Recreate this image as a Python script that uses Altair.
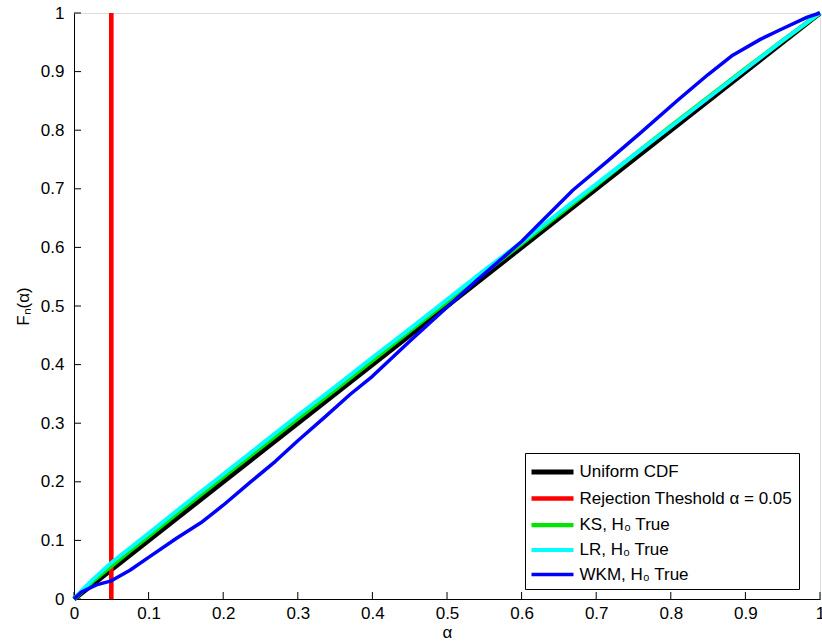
import altair as alt
import pandas as pd

# ---- data ----
series = ["Uniform CDF", "Rejection Theshold α = 0.05", "KS, H₀ True", "LR, H₀ True", "WKM, H₀ True"]
colors = ["#000000", "#ff0000", "#00e600", "#00ffff", "#0000ff"]
widths = [5, 3.5, 3.5, 3.5, 3.5]

uniform_x = [0, 1]
uniform_y = [0, 1]

thresh_x = [0.05, 0.05]
thresh_y = [0, 1]

grid_x = [0, 0.01, 0.025, 0.05, 0.075, 0.1, 0.15, 0.2, 0.25, 0.3, 0.35, 0.4, 0.45,
          0.5, 0.55, 0.6, 0.65, 0.7, 0.75, 0.8, 0.85, 0.9, 0.95, 1]
ks_y = [0, 0.012, 0.030, 0.056, 0.082, 0.107, 0.158, 0.208, 0.258, 0.308, 0.357, 0.407,
        0.457, 0.507, 0.557, 0.606, 0.656, 0.706, 0.757, 0.807, 0.856, 0.905, 0.953, 1]
lr_y = [0, 0.014, 0.033, 0.062, 0.087, 0.112, 0.163, 0.213, 0.263, 0.313, 0.362, 0.412,
        0.461, 0.511, 0.561, 0.609, 0.659, 0.708, 0.757, 0.806, 0.855, 0.904, 0.953, 1]

wkm_x = [0, 0.01, 0.03, 0.05, 0.075, 0.1, 0.138, 0.17, 0.2, 0.236, 0.27, 0.3, 0.335,
         0.37, 0.4, 0.45, 0.5, 0.54, 0.6, 0.625, 0.669, 0.714, 0.759, 0.81, 0.85, 0.883,
         0.92, 0.946, 0.983, 1]
wkm_y = [0, 0.012, 0.024, 0.031, 0.049, 0.071, 0.104, 0.13, 0.16, 0.199, 0.235, 0.27,
         0.309, 0.349, 0.38, 0.44, 0.498, 0.544, 0.61, 0.642, 0.698, 0.746, 0.795, 0.852,
         0.895, 0.928, 0.955, 0.971, 0.993, 1]

ticks = [0, 0.1, 0.2, 0.3, 0.4, 0.5, 0.6, 0.7, 0.8, 0.9, 1]

# ---- build table ----
rows = []
for name, xs, ys in [
    (series[0], uniform_x, uniform_y),
    (series[1], thresh_x, thresh_y),
    (series[2], grid_x, ks_y),
    (series[3], grid_x, lr_y),
    (series[4], wkm_x, wkm_y),
]:
    for i, (a, b) in enumerate(zip(xs, ys)):
        rows.append({"series": name, "x": a, "y": b, "order": i})
df = pd.DataFrame(rows)
tick_df = pd.DataFrame({"t": ticks})

FONT = "Liberation Sans"
FS = 17

xscale = alt.Scale(domain=[0, 1], nice=False, zero=False)
yscale = alt.Scale(domain=[0, 1], nice=False, zero=False)

legend = alt.Legend(
    title=None, orient="none", legendX=451, legendY=440,
    strokeColor="black", fillColor="white", padding=6, cornerRadius=0,
    labelFontSize=FS, labelFont=FONT, labelColor="black", labelLimit=400,
    symbolType="M-2,0H2", symbolSize=441, symbolOffset=8.5, labelOffset=14,
    rowPadding=3.5,
)

lines = alt.Chart(df).mark_line(strokeJoin="round", strokeCap="butt").encode(
    x=alt.X("x:Q", scale=xscale,
            axis=alt.Axis(title="α", values=ticks, format=".1~f", tickSize=0,
                          grid=False, domainColor="black", labelColor="black",
                          labelFontSize=FS, labelFont=FONT, labelPadding=6,
                          titleFontSize=FS, titleFont=FONT, titleFontWeight="normal",
                          titleColor="black", titlePadding=3, labelFlush=False)),
    y=alt.Y("y:Q", scale=yscale,
            axis=alt.Axis(title="Fₙ(α)", values=ticks, format=".1~f", tickSize=0,
                          grid=False, domainColor="black", labelColor="black",
                          labelFontSize=FS, labelFont=FONT, labelPadding=10,
                          titleFontSize=FS, titleFont=FONT, titleFontWeight="normal",
                          titleColor="black", titlePadding=8, labelFlush=False)),
    color=alt.Color("series:N", sort=series,
                    scale=alt.Scale(domain=series, range=colors),
                    legend=legend),
    strokeWidth=alt.StrokeWidth("series:N", sort=series,
                                scale=alt.Scale(domain=series, range=widths),
                                legend=legend),
    order="order:Q",
)

xticks = alt.Chart(tick_df).mark_rule(color="black", strokeWidth=1).encode(
    x=alt.X("t:Q", scale=xscale),
    y=alt.value(586),
    y2=alt.value(579),
)
yticks = alt.Chart(tick_df).mark_rule(color="black", strokeWidth=1).encode(
    y=alt.Y("t:Q", scale=yscale),
    x=alt.value(0),
    x2=alt.value(7),
)

chart = alt.layer(xticks, yticks, lines).properties(
    width=746, height=586,
    autosize=alt.AutoSizeParams(type="none"),
    padding={"left": 74, "top": 13, "right": 2, "bottom": 44},
).configure_view(stroke=None).configure_axis(grid=False).configure(background="white")

chart.save("out.html", embed_options={"renderer": "svg", "actions": False})
